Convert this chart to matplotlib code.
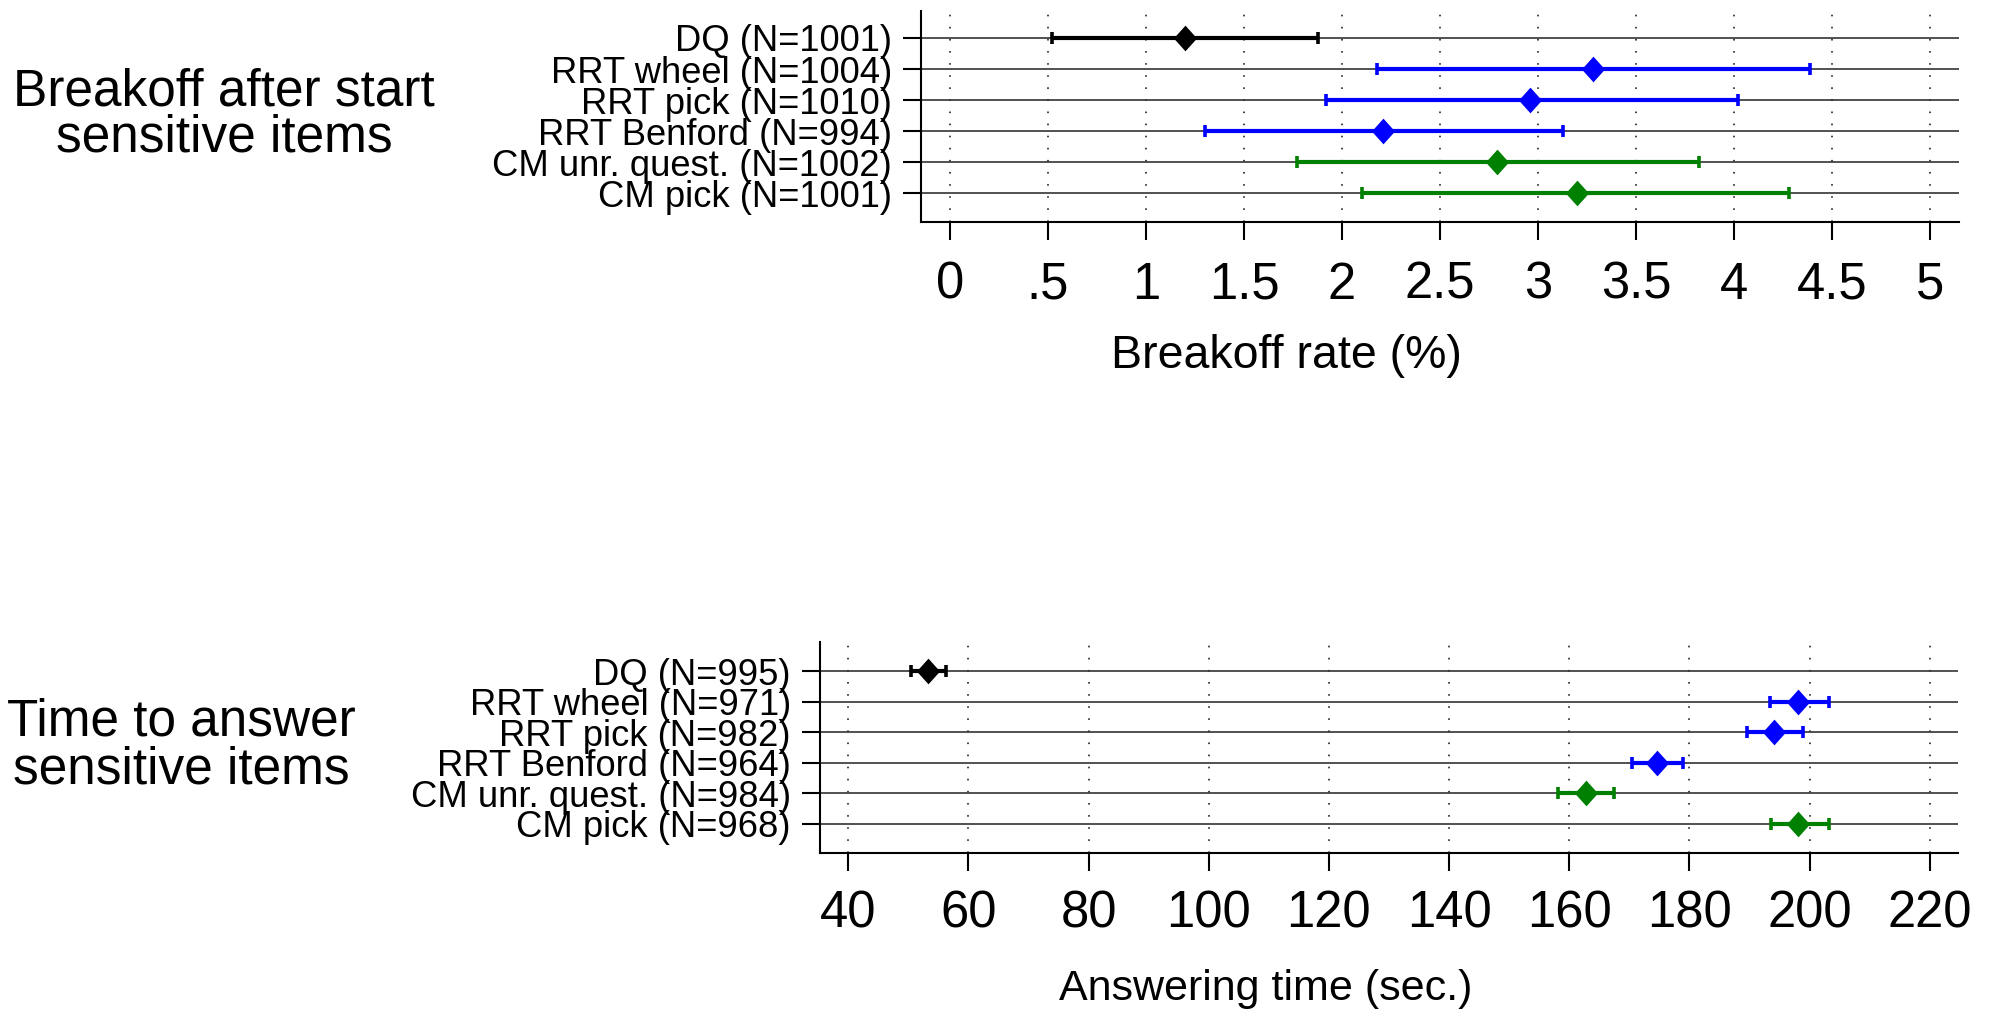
import matplotlib
matplotlib.use("Agg")
import matplotlib.pyplot as plt
import numpy as np

plt.rcParams["font.family"] = ["Liberation Sans", "DejaVu Sans"]

ROWS = [1, 2, 3, 4, 5, 6]
ROW_COLORS = ["black", "#0000ff", "#0000ff", "#0000ff", "#008000", "#008000"]

# breakoff panel
break_labels = ["DQ (N=1001)", "RRT wheel (N=1004)", "RRT pick (N=1010)",
                "RRT Benford (N=994)", "CM unr. quest. (N=1002)", "CM pick (N=1001)"]
break_est = [1.20, 3.28, 2.96, 2.21, 2.79, 3.20]
break_lo = [0.52, 2.18, 1.92, 1.30, 1.77, 2.10]
break_hi = [1.88, 4.39, 4.02, 3.13, 3.82, 4.28]
break_ticks = [0, 0.5, 1, 1.5, 2, 2.5, 3, 3.5, 4, 4.5, 5]
break_ticklabels = ["0", ".5", "1", "1.5", "2", "2.5", "3", "3.5", "4", "4.5", "5"]

# answering time panel
time_labels = ["DQ (N=995)", "RRT wheel (N=971)", "RRT pick (N=982)",
               "RRT Benford (N=964)", "CM unr. quest. (N=984)", "CM pick (N=968)"]
time_est = [53.3, 198.1, 194.1, 174.6, 162.8, 198.1]
time_lo = [50.4, 193.4, 189.5, 170.4, 158.2, 193.5]
time_hi = [56.3, 203.2, 198.9, 179.0, 167.5, 203.3]
time_ticks = [40, 60, 80, 100, 120, 140, 160, 180, 200, 220]

DIAMOND = [(0, 1), (0.9, 0), (0, -1), (-0.9, 0), (0, 1)]
W, H = 1993, 1010


def panel(ax, labels, est, lo, hi, ticks, ticklabels, xlim, ylim):
    est = np.asarray(est)
    lo = np.asarray(lo)
    hi = np.asarray(hi)
    for y, e, l, h, c in zip(ROWS, est, lo, hi, ROW_COLORS):
        ax.errorbar([e], [y], xerr=[[e - l], [h - e]], fmt="none", ecolor=c,
                    elinewidth=3, capsize=4.6, capthick=2.6, zorder=3)
        ax.plot([e], [y], marker=DIAMOND, ms=18.5, color=c, mew=0, ls="none", zorder=4)
    ax.set_xlim(*xlim)
    ax.set_ylim(*ylim)
    ax.set_yticks(ROWS)
    ax.set_yticklabels(labels, fontsize=26.2)
    ax.set_xticks(ticks)
    ax.set_xticklabels(ticklabels, fontsize=36.5)
    ax.set_axisbelow(True)
    ax.grid(True, axis="y", color="#333333", lw=1.2, ls="-")
    ax.grid(True, axis="x", color="#333333", lw=1.3, ls=(0, (0.9, 5.8)))
    for s in ("top", "right"):
        ax.spines[s].set_visible(False)
    for s in ("left", "bottom"):
        ax.spines[s].set_linewidth(1.5)
    ax.tick_params(axis="y", direction="out", length=13, width=1.5, pad=8)
    ax.tick_params(axis="x", direction="out", length=13, width=1.5)


fig = plt.figure(figsize=(W / 100, H / 100), dpi=100)

ax1 = fig.add_axes([921 / W, 1 - 222 / H, (1959 - 921) / W, 211 / H])
panel(ax1, break_labels, break_est, break_lo, break_hi, break_ticks,
      break_ticklabels, (-0.148, 5.148), (6.93, 0.13))
ax1.tick_params(axis="x", pad=15)
ax1.set_xlabel("Breakoff rate (%)", fontsize=33.5)
ax1.xaxis.label.set_va("baseline")
ax1.xaxis.set_label_coords((1286 - 921) / (1959 - 921), (222 - 368) / 211)

ax2 = fig.add_axes([820 / W, 1 - 853 / H, (1958 - 820) / W, 211 / H])
panel(ax2, time_labels, time_est, time_lo, time_hi, time_ticks,
      [str(t) for t in time_ticks], (35.3, 224.7), (6.95, 0.05))
ax2.tick_params(axis="x", pad=13)
ax2.set_xlabel("Answering time (sec.)", fontsize=31)
ax2.xaxis.label.set_va("baseline")
ax2.xaxis.set_label_coords((1266 - 820) / (1958 - 820), (853 - 1000) / 211)

# panel titles on the left
for txt, x, y in [("Breakoff after start", 224, 105), ("sensitive items", 224, 152),
                  ("Time to answer", 181, 736), ("sensitive items", 181, 783)]:
    fig.text(x / W, 1 - y / H, txt, fontsize=37, ha="center", va="baseline")

fig.savefig("out.png", dpi=100, facecolor="white")
